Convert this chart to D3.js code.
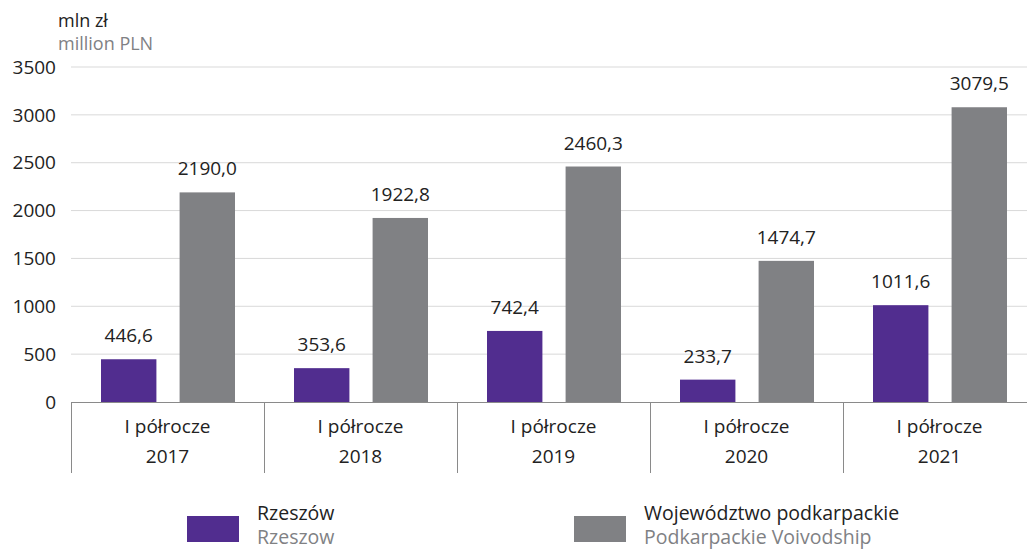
<!DOCTYPE html>
<html>
<head>
<meta charset="utf-8">
<script src="https://cdn.jsdelivr.net/npm/d3@7"></script>
<style>
    body { margin: 0; background: #fff; }
    svg { display: block; font-family: "Open Sans", "Noto Sans", sans-serif; }
</style>
</head>
<body>
<div id="chart"></div>
<script>
// ── Data ──
const categories = ['2017', '2018', '2019', '2020', '2021'];
const categoryPrefix = 'I półrocze';
const rzeszow = [446.6, 353.6, 742.4, 233.7, 1011.6];
const voivodship = [2190.0, 1922.8, 2460.3, 1474.7, 3079.5];
const yTicks = [0, 500, 1000, 1500, 2000, 2500, 3000, 3500];

const series = [
    { key: 'rzeszow', values: rzeszow, color: '#512d8f', label: 'Rzeszów', labelEn: 'Rzeszow' },
    { key: 'voiv', values: voivodship, color: '#808184', label: 'Województwo podkarpackie', labelEn: 'Podkarpackie Voivodship' },
];

const width = 1027, height = 549;
const margin = { left: 71, top: 67, bottom: 147 };
const plotBottom = height - margin.bottom; // 402
const bandW = 193;
const FS = 19;

const svg = d3.select('#chart').append('svg')
    .attr('width', width)
    .attr('height', height);

const x = d3.scaleBand()
    .domain(categories)
    .range([margin.left, margin.left + bandW * categories.length]);

const x1 = d3.scaleBand()
    .domain(series.map(s => s.key))
    .range([30, bandW - 29])
    .paddingInner(0.295);

const y = d3.scaleLinear()
    .domain([0, 3500])
    .range([plotBottom, margin.top]);

// Gridlines
svg.append('g')
    .selectAll('line')
    .data(yTicks.filter(t => t > 0))
    .join('line')
    .attr('x1', margin.left)
    .attr('x2', width)
    .attr('y1', d => y(d))
    .attr('y2', d => y(d))
    .attr('stroke', '#d9d9d9')
    .attr('stroke-width', 1);

// Y tick labels
svg.append('g')
    .selectAll('text')
    .data(yTicks)
    .join('text')
    .attr('x', 56)
    .attr('y', d => y(d))
    .attr('dy', '0.35em')
    .attr('text-anchor', 'end')
    .attr('font-size', FS)
    .attr('fill', '#222')
    .text(d => d);

// Unit label
svg.append('text').attr('x', 58).attr('y', 27).attr('font-size', 18).attr('fill', '#222').text('mln zł');
svg.append('text').attr('x', 58).attr('y', 50).attr('font-size', 18).attr('fill', '#808184').text('million PLN');

// Bars
const groups = svg.append('g')
    .selectAll('g')
    .data(categories)
    .join('g')
    .attr('transform', d => `translate(${x(d)},0)`);

series.forEach(s => {
    groups.append('rect')
        .attr('x', x1(s.key))
        .attr('width', x1.bandwidth())
        .attr('y', (d, i) => y(s.values[i]))
        .attr('height', (d, i) => plotBottom - y(s.values[i]))
        .attr('fill', s.color);

    groups.append('text')
        .attr('x', x1(s.key) + x1.bandwidth() / 2)
        .attr('y', (d, i) => y(s.values[i]) - 17)
        .attr('text-anchor', 'middle')
        .attr('font-size', FS)
        .attr('fill', '#222')
        .text((d, i) => s.values[i].toFixed(1).replace('.', ','));
});

// X axis line and separators
svg.append('line')
    .attr('x1', margin.left).attr('x2', width)
    .attr('y1', plotBottom + 0.5).attr('y2', plotBottom + 0.5)
    .attr('stroke', '#8a8a8a');

const bounds = categories.map(c => x(c)).concat([x.range()[1]]);
svg.append('g')
    .selectAll('line')
    .data(bounds)
    .join('line')
    .attr('x1', d => d + 0.5).attr('x2', d => d + 0.5)
    .attr('y1', plotBottom).attr('y2', 473)
    .attr('stroke', '#8a8a8a');

// Category labels
groups.append('text')
    .attr('x', bandW / 2)
    .attr('y', 433)
    .attr('text-anchor', 'middle')
    .attr('font-size', FS)
    .attr('fill', '#222')
    .text(categoryPrefix);
groups.append('text')
    .attr('x', bandW / 2)
    .attr('y', 463)
    .attr('text-anchor', 'middle')
    .attr('font-size', FS)
    .attr('fill', '#222')
    .text(d => d);

// Legend
const legendX = [187, 574];
const legend = svg.append('g')
    .selectAll('g')
    .data(series)
    .join('g')
    .attr('transform', (d, i) => `translate(${legendX[i]},516)`);

legend.append('rect')
    .attr('width', 52).attr('height', 26)
    .attr('fill', d => d.color);
legend.append('text')
    .attr('x', 70).attr('y', 4)
    .attr('font-size', 19.5).attr('fill', '#222')
    .text(d => d.label);
legend.append('text')
    .attr('x', 70).attr('y', 28)
    .attr('font-size', 19.5).attr('fill', '#808184')
    .text(d => d.labelEn);
</script>
</body>
</html>
